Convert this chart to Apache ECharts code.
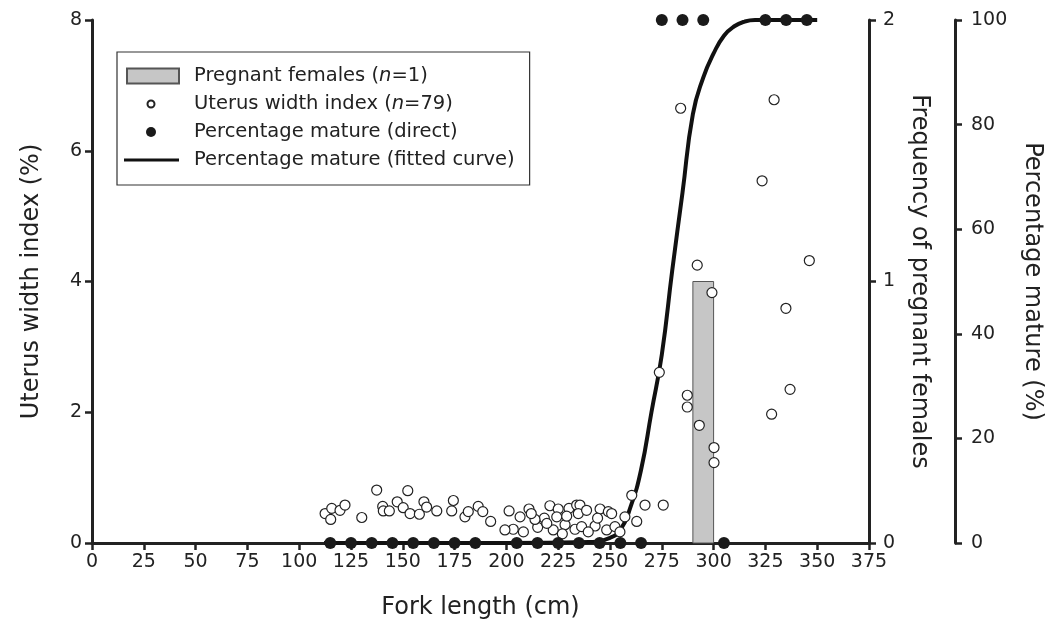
<!DOCTYPE html>
<html>
  <head>
    <meta charset="utf-8" />
    <title>Uterus width index and maturity vs fork length</title>
    <script src="https://cdn.jsdelivr.net/npm/echarts@6/dist/echarts.min.js"></script>
    <style>
      html, body { margin: 0; padding: 0; background: #fff; }
    </style>
  </head>
  <body>
    <div id="main" style="width: 1048px; height: 628px"></div>
    <script type="text/javascript">
      // pregnant females: bin start, bin end, count
      var pregnantBinStart = [290];
      var pregnantBinEnd = [300];
      var pregnantCount = [1];

      // uterus width index (%) against fork length (cm), n = 79
      var uterusLength = [
        112.5, 115.7, 115.2, 119.7, 122.1, 130.2, 137.4, 140.3, 140.6, 143.5,
        147.3, 150.2, 152.4, 153.5, 158, 160.2, 161.5, 166.4, 173.6, 174.4,
        180, 181.6, 186.4, 188.6, 192.4,
        201.3, 206.6, 210.9, 221, 225, 230.2, 233.9, 203.3, 208.2, 215.1,
        218.3, 222.6, 228.3, 233.1, 199.3, 213.8, 224.3, 229.1, 235.5, 234.7,
        238.7, 245.2, 249.2, 250.8, 242.8, 236.3, 239.5, 248.4, 252.4, 257.2,
        262.9, 266.9, 260.5, 275.7, 254.8, 212, 219.5, 244, 227,
        273.8, 284.1, 287.3, 287.3, 292.1, 293.1, 299.2, 300.2, 300.2, 323.4,
        328, 329.2, 334.9, 336.9, 346.2
      ];
      var uterusIndex = [
        0.45, 0.53, 0.36, 0.5, 0.58, 0.39, 0.81, 0.56, 0.49, 0.49,
        0.63, 0.54, 0.8, 0.45, 0.44, 0.63, 0.55, 0.49, 0.49, 0.65,
        0.4, 0.48, 0.56, 0.48, 0.33,
        0.49, 0.4, 0.52, 0.57, 0.52, 0.53, 0.58, 0.21, 0.17, 0.24,
        0.38, 0.2, 0.28, 0.21, 0.2, 0.36, 0.4, 0.41, 0.58, 0.45,
        0.5, 0.52, 0.48, 0.45, 0.26, 0.25, 0.17, 0.2, 0.25, 0.4,
        0.33, 0.58, 0.73, 0.58, 0.17, 0.45, 0.3, 0.38, 0.14,
        2.61, 6.65, 2.26, 2.08, 4.25, 1.8, 3.83, 1.46, 1.23, 5.54,
        1.97, 6.78, 3.59, 2.35, 4.32
      ];

      // percentage mature, direct (10 cm bins)
      var matureLength = [115, 125, 135, 145, 155, 165, 175, 185, 205, 215, 225, 235, 245, 255, 265, 275, 285, 295, 305, 325, 335, 345];
      var maturePct = [0, 0, 0, 0, 0, 0, 0, 0, 0, 0, 0, 0, 0, 0, 0, 100, 100, 100, 0, 100, 100, 100];

      // fitted maturity curve
      var curveLength = [112, 200, 240, 250, 255, 260, 265, 270, 275, 280, 285, 290, 295, 300, 305, 310, 315, 320, 350];
      var curvePct = [0, 0, 0.2, 1, 2.5, 7, 14, 25, 36, 52, 67, 82, 89, 93.6, 97, 98.8, 99.7, 100, 100];

      var xTicks = { min: 0, max: 375, interval: 25 };

      var FONT = 'DejaVu Sans';
      var INK = '#222';

      var chart = echarts.init(document.getElementById('main'));

      function zip(a, b) {
        return a.map(function (v, i) { return [v, b[i]]; });
      }

      var axisBase = {
        type: 'value',
        axisLine: { show: true, lineStyle: { color: INK, width: 3 } },
        axisTick: { show: true, length: 7, lineStyle: { color: INK, width: 2.5 } },
        axisLabel: { color: INK, fontFamily: FONT, fontSize: 19 },
        splitLine: { show: false },
        nameLocation: 'middle',
        nameTextStyle: { color: INK, fontFamily: FONT, fontSize: 24 }
      };

      var option = {
        animation: false,
        backgroundColor: '#fff',
        grid: { left: 92, right: 179, top: 20, bottom: 85, containLabel: false, outerBoundsMode: 'none' },
        legend: {
          orient: 'vertical',
          left: 117,
          top: 52,
          itemWidth: 65,
          itemHeight: 16,
          itemGap: 8,
          padding: [14, 15, 15, 6],
          borderColor: '#333',
          borderWidth: 1.2,
          backgroundColor: '#fff',
          selectedMode: false,
          textStyle: {
            color: INK, fontFamily: FONT, fontSize: 19.5,
            rich: { i: { color: INK, fontFamily: FONT, fontSize: 19.5, fontStyle: 'italic' } }
          },
          formatter: function (name) {
            return name.replace('(n=', '({i|n}=');
          },
          data: [
            { name: 'Pregnant females (n=1)', icon: 'path://M0,0M65,16M3,0.5L55,0.5L55,15.5L3,15.5Z' },
            { name: 'Uterus width index (n=79)', icon: 'path://M0,0M65,16M23.5,8A3.5,3.5,0,1,1,30.5,8A3.5,3.5,0,1,1,23.5,8Z' },
            { name: 'Percentage mature (direct)', icon: 'path://M0,0M65,16M22,8A5,5,0,1,1,32,8A5,5,0,1,1,22,8Z' },
            { name: 'Percentage mature (fitted curve)', icon: 'path://M0,0M65,16M0,6.5L55,6.5L55,9.5L0,9.5Z' }
          ]
        },
        xAxis: Object.assign({}, axisBase, {
          min: xTicks.min,
          max: xTicks.max,
          interval: xTicks.interval,
          axisLine: { show: true, onZero: false, lineStyle: { color: INK, width: 3 } },
          axisLabel: { color: INK, fontFamily: FONT, fontSize: 19, margin: 10 },
          name: 'Fork length (cm)',
          nameGap: 53
        }),
        yAxis: [
          Object.assign({}, axisBase, {
            position: 'left',
            min: 0, max: 8, interval: 2,
            axisLabel: { color: INK, fontFamily: FONT, fontSize: 19, margin: 10 },
            name: 'Uterus width index (%)',
            nameGap: 48
          }),
          Object.assign({}, axisBase, {
            position: 'right',
            min: 0, max: 2, interval: 1,
            axisLabel: { color: INK, fontFamily: FONT, fontSize: 19, margin: 14 },
            name: 'Frequency of pregnant females',
            nameRotate: -90,
            nameGap: 38
          }),
          Object.assign({}, axisBase, {
            position: 'right',
            offset: 86,
            min: 0, max: 100, interval: 20,
            axisLabel: { color: INK, fontFamily: FONT, fontSize: 19, margin: 16 },
            name: 'Percentage mature (%)',
            nameRotate: -90,
            nameGap: 65
          })
        ],
        series: [
          {
            name: 'Pregnant females (n=1)',
            type: 'custom',
            xAxisIndex: 0,
            yAxisIndex: 1,
            z: 1,
            itemStyle: { color: '#c6c6c6', borderColor: '#555', borderWidth: 1 },
            encode: { x: [0, 1], y: 2 },
            data: pregnantBinStart.map(function (s, i) {
              return [s, pregnantBinEnd[i], pregnantCount[i]];
            }),
            renderItem: function (params, api) {
              var p0 = api.coord([api.value(0), 0]);
              var p1 = api.coord([api.value(1), api.value(2)]);
              return {
                type: 'rect',
                shape: { x: p0[0], y: p1[1], width: p1[0] - p0[0], height: p0[1] - p1[1] },
                style: api.style()
              };
            }
          },
          {
            name: 'Percentage mature (fitted curve)',
            type: 'line',
            yAxisIndex: 2,
            z: 2,
            clip: false,
            smooth: 0.5,
            symbol: 'none',
            lineStyle: { color: '#111', width: 4 },
            itemStyle: { color: '#111' },
            data: zip(curveLength, curvePct)
          },
          {
            name: 'Uterus width index (n=79)',
            type: 'scatter',
            yAxisIndex: 0,
            z: 3,
            symbol: 'circle',
            symbolSize: 10,
            itemStyle: { color: '#fff', borderColor: '#222', borderWidth: 1.2, opacity: 1 },
            data: zip(uterusLength, uterusIndex)
          },
          {
            name: 'Percentage mature (direct)',
            type: 'scatter',
            yAxisIndex: 2,
            z: 4,
            clip: false,
            symbol: 'circle',
            symbolSize: 12,
            itemStyle: { color: '#1a1a1a', opacity: 1 },
            data: zip(matureLength, maturePct)
          }
        ]
      };

      chart.setOption(option);
    </script>
  </body>
</html>
